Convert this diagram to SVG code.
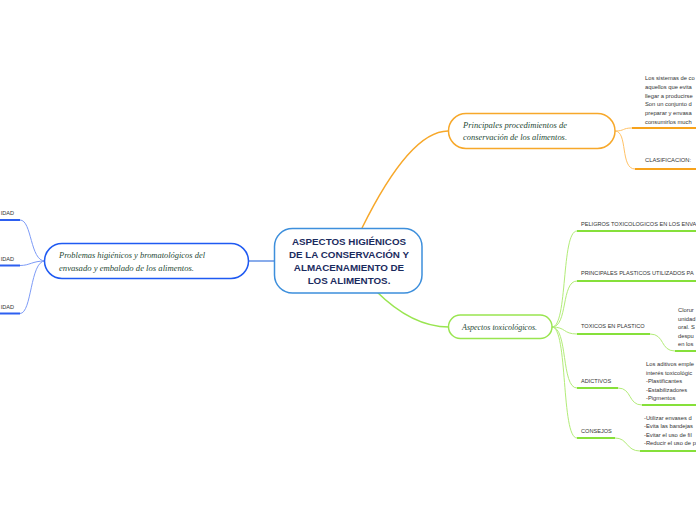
<svg xmlns="http://www.w3.org/2000/svg" width="696" height="520" viewBox="0 0 696 520">
<style>
.bg{fill:#ffffff}
.node{fill:#ffffff;stroke-width:1.5}
.central{stroke:#3d8fdc}
.blue{stroke:#1f5af2}
.orange{stroke:#f7a82a}
.green{stroke:#99e550}
.ct{font-family:"Liberation Sans",Arial,sans-serif;font-weight:bold;font-size:9.8px;fill:#1a2b5e;text-anchor:middle}
.st{font-family:"Liberation Serif","DejaVu Serif",serif;font-style:italic;font-size:9.2px;fill:#1f4a35}
.lt{font-family:"Liberation Sans",Arial,sans-serif;font-size:5.6px;fill:#333333}
.pt{font-family:"Liberation Sans",Arial,sans-serif;font-size:5.8px;fill:#333333}
.c{fill:none;stroke-width:1}
.cb{stroke:#7d9bf7}
.co{stroke:#ffc266}
.cg{stroke:#b2ec78}
.u{fill:none;stroke-width:2}
.ub{stroke:#2d5ff0}
.uo{stroke:#f7a21b}
.ug{stroke:#86e03a}
</style>
<rect class="bg" x="0" y="0" width="696" height="520"/>
<g id="connectors">
  <line x1="248" y1="261" x2="275" y2="261" stroke="#4a7fe0" stroke-width="1.3"/>
  <path d="M362,228 Q410,131 448,131" fill="none" stroke="#f7a82a" stroke-width="1.5"/>
  <path d="M376,291 C395,310 420,327 449,327" fill="none" stroke="#99e550" stroke-width="1.5"/>
  <path class="c cb" d="M45,261 C30,261 32,220 20,220"/>
  <path class="c cb" d="M45,261 C32,261 30,265.5 20,265.5"/>
  <path class="c cb" d="M45,261 C30,261 32,313.5 20,313.5"/>
  <line class="u ub" x1="0" y1="220" x2="20" y2="220"/>
  <line class="u ub" x1="0" y1="265.5" x2="20" y2="265.5"/>
  <line class="u ub" x1="0" y1="313.5" x2="20" y2="313.5"/>
  <path class="c co" d="M615,131 C625,131 622,128 632,128"/>
  <path class="c co" d="M615,131 C628,131 620,169 635,169"/>
  <line class="u uo" x1="632" y1="128" x2="696" y2="128"/>
  <line class="u uo" x1="635" y1="169" x2="696" y2="169"/>
  <path class="c cg" d="M552,327 C568,327 561,231 577,231"/>
  <path class="c cg" d="M552,327 C568,327 561,281 577,281"/>
  <path class="c cg" d="M552,327 C566,327 563,334 577,334"/>
  <path class="c cg" d="M552,327 C568,327 561,388 577,388"/>
  <path class="c cg" d="M552,327 C568,327 561,438 577,438"/>
  <line class="u ug" x1="577" y1="231" x2="696" y2="231"/>
  <line class="u ug" x1="577" y1="281" x2="696" y2="281"/>
  <line class="u ug" x1="577" y1="334" x2="650" y2="334"/>
  <line class="u ug" x1="577" y1="388" x2="618" y2="388"/>
  <line class="u ug" x1="577" y1="438" x2="615" y2="438"/>
  <path class="c cg" d="M650,334 C665,334 660,351 675,351"/>
  <path class="c cg" d="M618,388 C632,388 628,405 642,405"/>
  <path class="c cg" d="M615,438 C628,438 626,451 640,451"/>
  <line class="u ug" x1="675" y1="351" x2="696" y2="351"/>
  <line class="u ug" x1="642" y1="405" x2="696" y2="405"/>
  <line class="u ug" x1="640" y1="451" x2="696" y2="451"/>
</g>
<g id="central">
  <rect class="node central" x="274.5" y="228.5" width="147.5" height="64.5" rx="18"/>
  <text class="ct" x="349" y="245">ASPECTOS HIGIÉNICOS</text>
  <text class="ct" x="349" y="258">DE LA CONSERVACIÓN Y</text>
  <text class="ct" x="349" y="271">ALMACENAMIENTO DE</text>
  <text class="ct" x="349" y="284">LOS ALIMENTOS.</text>
</g>
<g id="node-problemas">
  <rect class="node blue" x="44.5" y="243.5" width="204" height="35" rx="17.5"/>
  <text class="st" x="59" y="258" textLength="146" lengthAdjust="spacingAndGlyphs">Problemas higiénicos y bromatológicos del</text>
  <text class="st" x="59" y="271" textLength="135" lengthAdjust="spacingAndGlyphs">envasado y embalado de los alimentos.</text>
</g>
<g id="node-left-1"><text class="lt" x="14" y="215" text-anchor="end">IDAD</text></g>
<g id="node-left-2"><text class="lt" x="14" y="261" text-anchor="end">IDAD</text></g>
<g id="node-left-3"><text class="lt" x="14" y="309" text-anchor="end">IDAD</text></g>
<g id="node-principales">
  <rect class="node orange" x="448.5" y="113.5" width="166.5" height="35" rx="17.5"/>
  <text class="st" x="463" y="128" textLength="104" lengthAdjust="spacingAndGlyphs">Principales procedimientos de</text>
  <text class="st" x="463" y="140" textLength="104" lengthAdjust="spacingAndGlyphs">conservación de los alimentos.</text>
</g>
<g id="node-sistemas">
  <text class="pt" x="645" y="80">Los sistemas de co</text>
  <text class="pt" x="645" y="89">aquellos que evita</text>
  <text class="pt" x="645" y="98">llegar a producirse</text>
  <text class="pt" x="645" y="106">Son un conjunto d</text>
  <text class="pt" x="645" y="115">preparar y envasa</text>
  <text class="pt" x="645" y="124">consumirlos much</text>
</g>
<g id="node-clasificacion"><text class="pt" x="645" y="162">CLASIFICACION:</text></g>
<g id="node-aspectos">
  <rect class="node green" x="448.5" y="315" width="103.5" height="23.5" rx="11.75"/>
  <text class="st" x="462" y="330" textLength="75" lengthAdjust="spacingAndGlyphs">Aspectos toxicológicos.</text>
</g>
<g id="node-peligros"><text class="lt" x="581" y="226">PELIGROS TOXICOLOGICOS EN LOS ENVA</text></g>
<g id="node-principales-plasticos"><text class="lt" x="581" y="275">PRINCIPALES PLASTICOS UTILIZADOS PA</text></g>
<g id="node-toxicos"><text class="lt" x="581" y="328">TOXICOS EN PLASTICO</text></g>
<g id="node-toxicos-text">
  <text class="pt" x="678" y="312">Clorur</text>
  <text class="pt" x="678" y="320.5">unidad</text>
  <text class="pt" x="678" y="329">oral. S</text>
  <text class="pt" x="678" y="337.5">despu</text>
  <text class="pt" x="678" y="346">en los</text>
</g>
<g id="node-adictivos"><text class="lt" x="581" y="383">ADICTIVOS</text></g>
<g id="node-adictivos-text">
  <text class="pt" x="646" y="366">Los aditivos emple</text>
  <text class="pt" x="646" y="374.5">interés toxicológic</text>
  <text class="pt" x="646" y="383">-Plastificantes</text>
  <text class="pt" x="646" y="391.5">-Estabilizadores</text>
  <text class="pt" x="646" y="400">-Pigmentos</text>
</g>
<g id="node-consejos"><text class="lt" x="581" y="433">CONSEJOS</text></g>
<g id="node-consejos-text">
  <text class="pt" x="644" y="419.5">-Utilizar envases d</text>
  <text class="pt" x="644" y="428">-Evita las bandejas</text>
  <text class="pt" x="644" y="436.5">-Evitar el uso de fil</text>
  <text class="pt" x="644" y="445">-Reducir el uso de p</text>
</g>
</svg>
